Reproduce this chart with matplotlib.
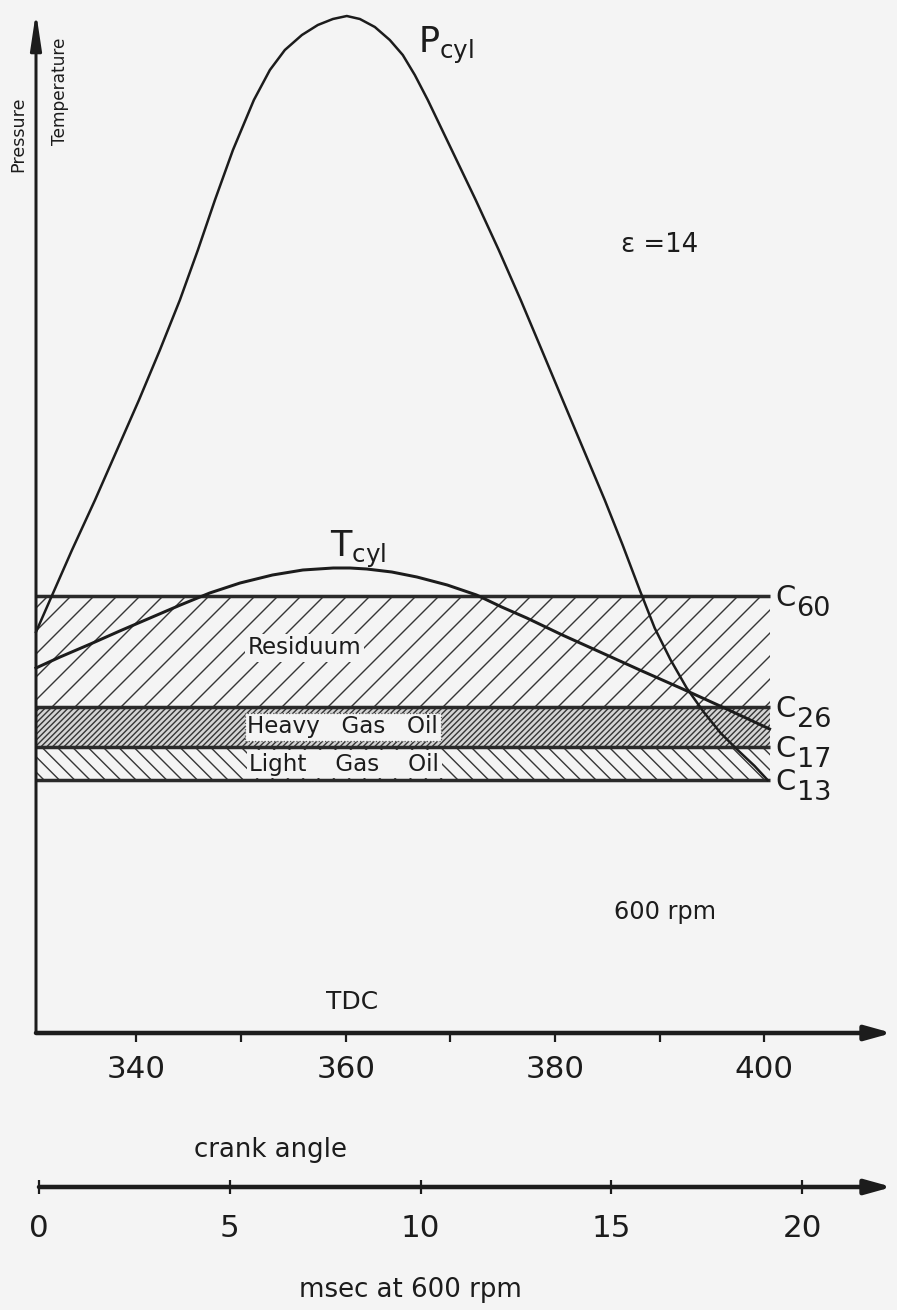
import matplotlib
matplotlib.use("Agg")
import matplotlib.pyplot as plt

# cylinder pressure (arbitrary units) vs crank angle
crank_p = [330.40, 331.74, 333.84, 336.04, 338.14, 340.24, 342.24, 344.15, 345.87,
           347.50, 349.22, 351.22, 352.75, 354.18, 355.81, 357.33, 358.77, 360.10,
           361.35, 362.78, 364.21, 365.45, 366.60, 367.84, 370.13, 372.42, 374.62,
           376.72, 378.73, 380.73, 382.74, 384.75, 386.46, 388.09, 389.52, 391.05,
           392.58, 394.20, 395.82, 397.45, 399.07, 400.31]
p_cyl = [401, 433, 483, 533, 583, 633, 683, 733, 783,
         833, 883, 933, 963, 983, 998, 1008, 1014, 1017,
         1014, 1006, 993, 978, 958, 933, 883, 833, 783,
         733, 683, 633, 583, 533, 488, 443, 405, 373,
         345, 321, 300, 283, 267, 253]

# cylinder temperature (same arbitrary scale)
crank_t = [330.4, 332.7, 335.6, 338.4, 341.3, 344.2, 347.0, 349.9, 353.0, 355.9,
           358.8, 360.4, 362.0, 364.4, 366.8, 369.7, 372.5, 374.9, 377.3, 380.7,
           384.3, 388.1, 392.2, 396.4, 400.5]
t_cyl = [365, 376, 389, 402, 415, 428, 440, 450, 458, 463,
         465, 465, 464, 461, 456, 448, 438, 426, 415, 398,
         381, 363, 344, 324, 304]

# boiling ranges of the fuel fractions
band_names = ["Residuum", "Heavy   Gas   Oil", "Light    Gas    Oil"]
band_lo = [326, 286, 253]
band_hi = [437, 326, 286]
band_hatch = ["//", "////////", "\\\\\\"]
band_fill = ["none", "#d4d4d4", "none"]
carbon_nums = ["60", "26", "17", "13"]
carbon_levels = [437, 326, 286, 253]
band_start, band_end = 330.4, 400.5

crank_ticks = [340, 360, 380, 400]
crank_minor = [350, 370, 390]
msec_ticks = [0, 5, 10, 15, 20]

DPI = 138
W, H = 897, 1310
PT = 72 / DPI          # points per pixel
INK = "#1c1c1c"
BG = "#f4f4f4"

plt.rcParams["font.family"] = ["DejaVu Sans"]
plt.rcParams["mathtext.default"] = "regular"
plt.rcParams["hatch.linewidth"] = 1.4 * PT
plt.rcParams["hatch.color"] = "#363636"

fig = plt.figure(figsize=(W / DPI, H / DPI), dpi=DPI, facecolor=BG)

# main axes: left spine at x=36px, x-axis at y=1033px, arrow tip at 892px
x_lo, x_hi = 330.4, 412.2
ax = fig.add_axes([36 / W, (H - 1033) / H, (892 - 36) / W, (1033 - 12) / H])
ax.set_xlim(x_lo, x_hi)
ax.set_ylim(0, 1021)
ax.set_facecolor("none")
for s in ax.spines.values():
    s.set_visible(False)


def axis_arrow(a, end, lw, hl, hw):
    a.annotate("", xy=end, xytext=(0, 0), xycoords="axes fraction",
               textcoords="axes fraction", annotation_clip=False,
               arrowprops=dict(arrowstyle=f"-|>,head_length={hl},head_width={hw}",
                               lw=lw, color=INK, shrinkA=0, shrinkB=0,
                               mutation_scale=10))


axis_arrow(ax, (0, 1), 3 * PT, 1.6, 0.24)
axis_arrow(ax, (1, 0), 4.5 * PT, 1.15, 0.32)

ax.set_yticks([])
ax.set_xticks(crank_ticks)
ax.set_xticks(crank_minor, minor=True)
ax.tick_params(axis="x", which="both", direction="out", length=9 * PT,
               width=2.2 * PT, color=INK, pad=13 * PT, labelsize=31 * PT,
               labelcolor=INK)

# fraction bands
for lo, hi, hatch, fc in zip(band_lo, band_hi, band_hatch, band_fill):
    ax.fill_between([band_start, band_end], lo, hi, facecolor=fc,
                    edgecolor="#363636", hatch=hatch, linewidth=0, zorder=1)
ax.hlines(carbon_levels, band_start, band_end, colors="#2a2a2a",
          linewidth=3.5 * PT, zorder=2)

label_x = [350.6, 350.6, 350.8]
label_y = [385, 306, 269]
box_edges = ["none", "#555555", "none"]
for name, lx, ly, ec in zip(band_names, label_x, label_y, box_edges):
    ax.text(lx, ly, name, ha="left", va="center", fontsize=23 * PT, color=INK,
            zorder=3, bbox=dict(facecolor=BG, edgecolor=ec, linestyle=":",
                                linewidth=1.2 * PT, pad=1.5))

for num, lvl in zip(carbon_nums, carbon_levels):
    ax.annotate("C", (band_end, lvl), xytext=(6 * PT, -2 * PT),
                textcoords="offset points", ha="left", va="center",
                fontsize=29 * PT, color=INK, annotation_clip=False)
    ax.annotate(num, (band_end, lvl), xytext=(27 * PT, -13 * PT),
                textcoords="offset points", ha="left", va="center",
                fontsize=27 * PT, color=INK, annotation_clip=False)

# curves
ax.plot(crank_p, p_cyl, color=INK, lw=2.5 * PT, zorder=4, clip_on=False)
ax.plot(crank_t, t_cyl, color=INK, lw=3.0 * PT, zorder=4, clip_on=False)

ax.text(366.9, 988, r"$P_{cyl}$", ha="left", va="center", fontsize=35 * PT,
        color=INK)
ax.text(358.5, 484, r"$T_{cyl}$", ha="left", va="center", fontsize=35 * PT,
        color=INK)
ax.text(386.3, 788, "ε =14", ha="left", va="center", fontsize=26 * PT, color=INK)
ax.text(385.6, 121, "600 rpm", ha="left", va="center", fontsize=24 * PT,
        color=INK)
ax.text(360.6, 31, "TDC", ha="center", va="center", fontsize=25 * PT, color=INK)

fig.text(18 / W, 1 - 172 / H, "Pressure", rotation=90, ha="center", va="bottom",
         fontsize=17.5 * PT, color=INK)
fig.text(60 / W, 1 - 145 / H, "Temperature", rotation=90, ha="center",
         va="bottom", fontsize=17 * PT, color=INK)

# second scale: time at 600 rpm
ms_per_px = 1 / 38.15
ax2 = fig.add_axes([39 / W, (H - 1187) / H, (892 - 39) / W, 0.0005])
ax2.set_xlim(0, (892 - 39) * ms_per_px)
ax2.set_ylim(0, 1)
ax2.set_facecolor("none")
for s in ax2.spines.values():
    s.set_visible(False)
axis_arrow(ax2, (1, 0), 4.5 * PT, 1.15, 0.32)
ax2.set_yticks([])
ax2.set_xticks(msec_ticks)
ax2.tick_params(axis="x", direction="inout", length=14 * PT, width=2.2 * PT,
                color=INK, pad=20 * PT, labelsize=31 * PT, labelcolor=INK)

fig.text(270 / W, 1 - 1150 / H, "crank angle", ha="center", va="center",
         fontsize=26 * PT, color=INK)
fig.text(410 / W, 1 - 1290 / H, "msec at 600 rpm", ha="center", va="center",
         fontsize=26 * PT, color=INK)

fig.savefig("out.png", dpi=DPI, facecolor=BG)
